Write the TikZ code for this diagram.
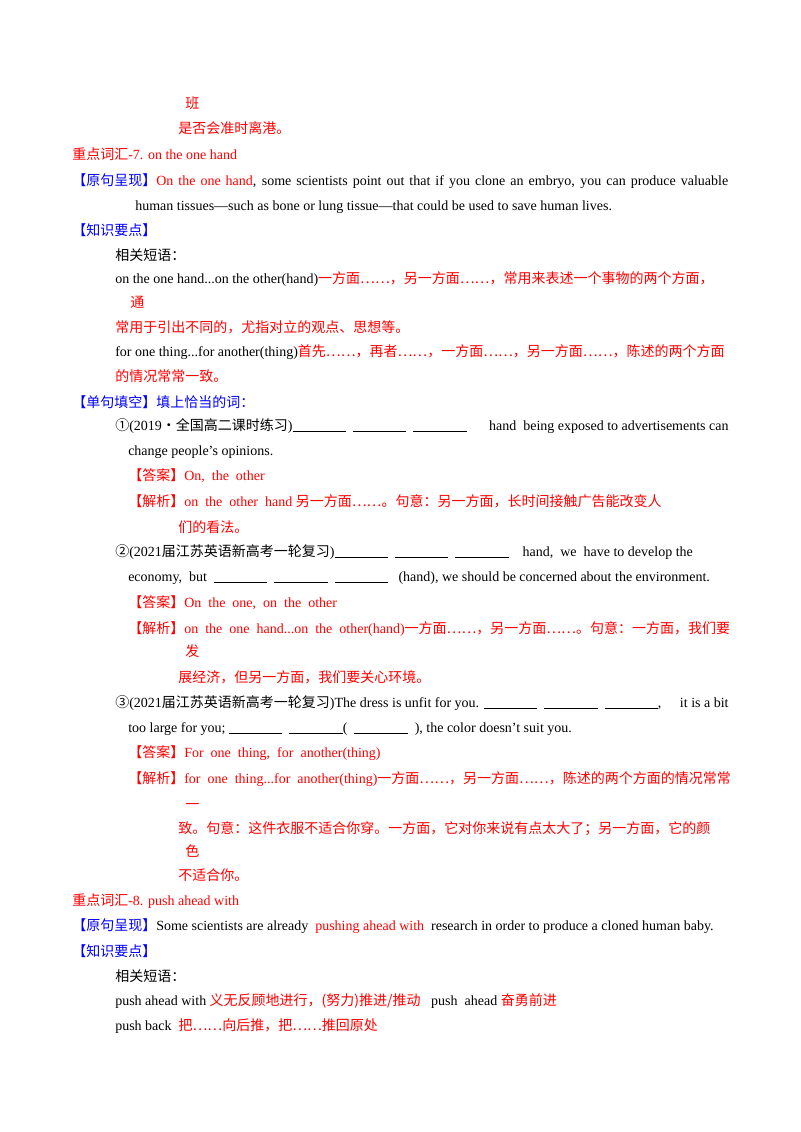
\documentclass[tikz,border=0pt]{standalone}
\usepackage{fontspec}
\setmainfont{Liberation Serif}
\newfontfamily\cjk[Scale=1.0]{Noto Sans CJK SC}
\newcommand\C[1]{{\cjk #1}}
\newcommand\J[2]{\hbox to #1pt{#2}}
\newcommand\B{\rule[-1.5pt]{40pt}{0.4pt}}
\definecolor{rd}{RGB}{255,0,0}
\definecolor{bl}{RGB}{0,0,255}
\begin{document}
\begin{tikzpicture}[x=0.75pt,y=-0.75pt,t/.style={anchor=base west,inner sep=0,font=\fontsize{10.5}{12}\selectfont}]
\useasboundingbox (0,0) rectangle (800,1132);
\node[t,rd] (a1) at (185,108) {\C{班}};
\node[t,rd] (a2) at (178,133) {\C{是否会准时离港。}};
\node[t,rd] (a3) at (72,159) {\C{重点词汇}-7. on the one hand};
\node[t] (a4) at (72,185) {\J{492}{\color{bl}\C{【原句呈现】}\color{rd}On the one hand\color{black}, some scientists point out that if you clone an embryo, you can produce valuable}};
\node[t] (a5) at (135,210) {human tissues---such as bone or lung tissue---that could be used to save human lives.};
\node[t,bl] (a6) at (72,235) {\C{【知识要点】}};
\node[t] (a7) at (115,260) {\C{相关短语：}};
\node[t] (a8) at (115,283) {on the one hand...on the other(hand)\color{rd}\C{一方面……，另一方面……，常用来表述一个事物的两个方面，}};
\node[t,rd] (a9) at (130,307) {\C{通}};
\node[t,rd] (a10) at (115,332) {\C{常用于引出不同的，尤指对立的观点、思想等。}};
\node[t] (a11) at (115,356) {for one thing...for another(thing)\color{rd}\C{首先……，再者……，一方面……，另一方面……，陈述的两个方面}};
\node[t,rd] (a12) at (115,381) {\C{的情况常常一致。}};
\node[t,bl] (a13) at (72,407) {\C{【单句填空】填上恰当的词：}};
\node[t] (b1) at (115,430) {\J{460}{\C{①}(2019\C{·全国高二课时练习})\B\ \ \B\ \ \B\hfill hand\ \ being exposed to advertisements can}};
\node[t] (b2) at (128,455) {change people's opinions.};
\node[t,rd] (b3) at (128,480) {\C{【答案】}On,\ \ the\ \ other};
\node[t,rd] (b4) at (128,506) {\C{【解析】}on\ \ the\ \ other\ \ hand \C{另一方面……。句意：另一方面，长时间接触广告能改变人}};
\node[t,rd] (b5) at (178,532) {\C{们的看法。}};
\node[t] (c1) at (115,556) {\C{②}(2021\C{届江苏英语新高考一轮复习})\B\ \ \B\ \ \B\ \ \ \ hand,\ \ we\ \ have to develop the};
\node[t] (c2) at (128,581) {economy,\ \ but\ \ \B\ \ \B\ \ \B\ \ \ (hand), we should be concerned about the environment.};
\node[t,rd] (c3) at (128,607) {\C{【答案】}On\ \ the\ \ one,\ \ on\ \ the\ \ other};
\node[t,rd] (c4) at (128,633) {\C{【解析】}on\ \ the\ \ one\ \ hand...on\ \ the\ \ other(hand)\C{一方面……，另一方面……。句意：一方面，我们要}};
\node[t,rd] (c5) at (185,656) {\C{发}};
\node[t,rd] (c6) at (178,682) {\C{展经济，但另一方面，我们要关心环境。}};
\node[t] (d1) at (115,707) {\J{460}{\C{③}(2021\C{届江苏英语新高考一轮复习})The dress is unfit for you. \B\ \ \B\ \ \B,\hfill it is a bit}};
\node[t] (d2) at (128,732) {too large for you; \B\ \ \B(\ \ \B\ \ ), the color doesn't suit you.};
\node[t,rd] (d3) at (128,757) {\C{【答案】}For\ \ one\ \ thing,\ \ for\ \ another(thing)};
\node[t,rd] (d4) at (128,783) {\C{【解析】}for\ \ one\ \ thing...for\ \ another(thing)\C{一方面……，另一方面……，陈述的两个方面的情况常常}};
\node[t,rd] (d5) at (185,809) {\C{一}};
\node[t,rd] (d6) at (178,833) {\C{致。句意：这件衣服不适合你穿。一方面，它对你来说有点太大了；另一方面，它的颜}};
\node[t,rd] (d7) at (185,856) {\C{色}};
\node[t,rd] (d8) at (178,880) {\C{不适合你。}};
\node[t,rd] (e1) at (72,905) {\C{重点词汇}-8. push ahead with};
\node[t] (e2) at (72,930) {\color{bl}\C{【原句呈现】}\color{black}Some scientists are already\ \ \color{rd}pushing ahead with\color{black}\ \ research in order to produce a cloned human baby.};
\node[t,bl] (e3) at (72,956) {\C{【知识要点】}};
\node[t] (e4) at (115,981) {\C{相关短语：}};
\node[t] (e5) at (115,1005) {push ahead with \color{rd}\C{义无反顾地进行，(努力)推进/推动}\color{black}\ \ \ push\ \ ahead \color{rd}\C{奋勇前进}};
\node[t] (e6) at (115,1030) {push back\ \ \color{rd}\C{把……向后推，把……推回原处}};
\end{tikzpicture}
\end{document}
